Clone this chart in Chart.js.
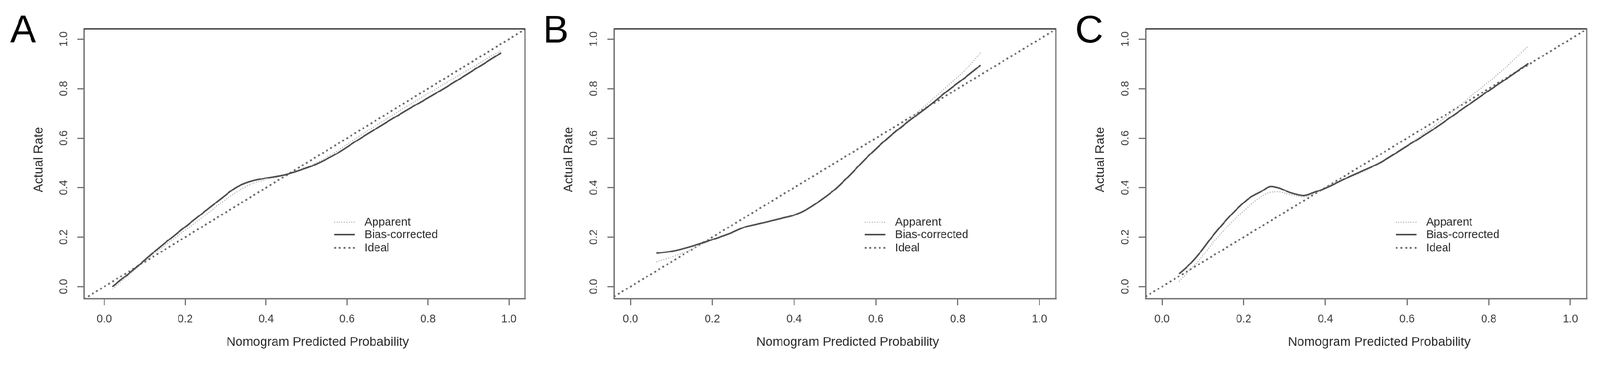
<!DOCTYPE html>
<html>
<head>
<meta charset="utf-8">
<title>Calibration curves</title>
<script src="https://cdn.jsdelivr.net/npm/chart.js@4.4.0/dist/chart.umd.min.js"></script>
<style>
  html, body { margin: 0; padding: 0; background: #fff; overflow: hidden; }
  #wrap { position: absolute; left: 0; top: 0; width: 4226px; height: 953px; transform-origin: 0 0; }
  canvas { position: absolute; top: 0; }
</style>
</head>
<body>
<div id="wrap">
  <canvas id="chartA" width="1409" height="953" style="left:0px"></canvas>
  <canvas id="chartB" width="1409" height="953" style="left:1409px"></canvas>
  <canvas id="chartC" width="1408" height="953" style="left:2818px"></canvas>
</div>
<script>
// axis ticks and labels
const tickValues = [0, 0.2, 0.4, 0.6, 0.8, 1.0];
const tickLabels = ['0.0', '0.2', '0.4', '0.6', '0.8', '1.0'];
const seriesNames = ['Apparent', 'Bias-corrected', 'Ideal'];
const panelLetters = ['A', 'B', 'C'];
const xTitle = 'Nomogram Predicted Probability';
const yTitle = 'Actual Rate';
const idealLine = [-0.1, 1.1];

// panel A
const aBiasX = [0.02, 0.077, 0.123, 0.185, 0.247, 0.294, 0.325, 0.357, 0.394, 0.446, 0.483, 0.524, 0.577, 0.629, 0.734, 0.839, 0.981];
const aBiasY = [0.0, 0.075, 0.14, 0.222, 0.302, 0.362, 0.4, 0.423, 0.437, 0.452, 0.47, 0.495, 0.54, 0.595, 0.70, 0.80, 0.945];
const aAppX = [0.02, 0.077, 0.123, 0.185, 0.247, 0.294, 0.325, 0.357, 0.394, 0.446, 0.483, 0.524, 0.577, 0.629, 0.734, 0.839, 0.981];
const aAppY = [-0.01, 0.07, 0.133, 0.21, 0.285, 0.345, 0.38, 0.41, 0.43, 0.452, 0.473, 0.5, 0.55, 0.607, 0.715, 0.818, 0.955];

// panel B
const bBiasX = [0.063, 0.102, 0.137, 0.173, 0.2, 0.243, 0.278, 0.297, 0.332, 0.367, 0.402, 0.431, 0.466, 0.498, 0.53, 0.58, 0.629, 0.679, 0.728, 0.778, 0.818, 0.856];
const bBiasY = [0.135, 0.143, 0.157, 0.175, 0.19, 0.215, 0.24, 0.248, 0.261, 0.275, 0.29, 0.312, 0.35, 0.39, 0.44, 0.525, 0.6, 0.667, 0.728, 0.795, 0.845, 0.895];
const bAppX = [0.063, 0.119, 0.173, 0.2, 0.243, 0.278, 0.297, 0.332, 0.367, 0.402, 0.431, 0.466, 0.498, 0.53, 0.58, 0.629, 0.679, 0.728, 0.778, 0.818, 0.856];
const bAppY = [0.10, 0.13, 0.17, 0.188, 0.214, 0.238, 0.247, 0.26, 0.274, 0.289, 0.311, 0.349, 0.39, 0.44, 0.525, 0.602, 0.672, 0.742, 0.815, 0.875, 0.945];

// panel C
const cBiasX = [0.042, 0.066, 0.091, 0.121, 0.152, 0.183, 0.214, 0.245, 0.266, 0.286, 0.315, 0.347, 0.371, 0.399, 0.465, 0.531, 0.597, 0.663, 0.729, 0.795, 0.855, 0.897];
const cBiasY = [0.052, 0.087, 0.133, 0.198, 0.259, 0.313, 0.358, 0.386, 0.405, 0.399, 0.379, 0.368, 0.38, 0.397, 0.449, 0.498, 0.565, 0.634, 0.71, 0.786, 0.853, 0.902];
const cAppX = [0.042, 0.066, 0.091, 0.128, 0.165, 0.201, 0.238, 0.269, 0.285, 0.315, 0.347, 0.377, 0.423, 0.5, 0.575, 0.643, 0.729, 0.762, 0.828, 0.897];
const cAppY = [0.02, 0.064, 0.107, 0.184, 0.251, 0.307, 0.358, 0.382, 0.383, 0.371, 0.363, 0.379, 0.42, 0.47, 0.545, 0.621, 0.731, 0.777, 0.866, 0.972];

// fit the 4226x953 layout into whatever viewport we actually get
const wrap = document.getElementById('wrap');
const fitScale = Math.min(window.innerWidth / 4226, window.innerHeight / 953);
wrap.style.transform = 'scale(' + fitScale + ')';

Chart.defaults.font.family = '"Liberation Sans", Arial, sans-serif';
Chart.defaults.color = '#3a3a3a';

const FONT = '"Liberation Sans", Arial, sans-serif';
const toPoints = (xs, ys) => xs.map((x, i) => ({ x: x, y: ys[i] }));

// draws the box, rotated y labels, axis titles, legend and panel letter
const decorPlugin = {
    id: 'decor',
    afterDraw(chart, args, opts) {
        const ctx = chart.ctx;
        const a = chart.chartArea;
        const yScale = chart.scales.y;
        const w = a.right - a.left;
        const h = a.bottom - a.top;
        ctx.save();

        ctx.strokeStyle = '#707070';
        ctx.lineWidth = 3;
        ctx.strokeRect(a.left, a.top, w, h);
        ctx.strokeStyle = '#505050';
        ctx.lineWidth = 4;
        ctx.beginPath();
        ctx.moveTo(a.left, a.top);
        ctx.lineTo(a.right, a.top);
        ctx.stroke();

        ctx.fillStyle = '#3a3a3a';
        ctx.font = '29px ' + FONT;
        ctx.textAlign = 'center';
        ctx.textBaseline = 'middle';
        yScale.ticks.forEach((t, i) => {
            const py = yScale.getPixelForValue(t.value);
            ctx.save();
            ctx.translate(a.left - 53, py);
            ctx.rotate(-Math.PI / 2);
            ctx.fillText(tickLabels[i], 0, 0);
            ctx.restore();
        });

        ctx.fillStyle = '#2a2a2a';
        ctx.font = '33.5px ' + FONT;
        ctx.fillText(xTitle, a.left + 617, 905);
        ctx.save();
        ctx.translate(a.left - 119, 422);
        ctx.rotate(-Math.PI / 2);
        ctx.fillText(yTitle, 0, 0);
        ctx.restore();

        // legend inside the plot
        const rows = [0.717, 0.763, 0.812];
        ctx.font = '30px ' + FONT;
        ctx.textAlign = 'left';
        chart.data.datasets.forEach((ds, i) => {
            const ly = a.top + rows[i] * h;
            ctx.save();
            ctx.strokeStyle = ds.borderColor;
            ctx.lineWidth = ds.borderWidth;
            ctx.setLineDash(ds.borderDash || []);
            ctx.beginPath();
            ctx.moveTo(a.left + 0.567 * w, ly);
            ctx.lineTo(a.left + 0.614 * w, ly);
            ctx.stroke();
            ctx.restore();
            ctx.fillStyle = '#2a2a2a';
            ctx.fillText(ds.label, a.left + 0.636 * w, ly + 1);
        });

        ctx.fillStyle = '#000';
        ctx.font = '102px ' + FONT;
        ctx.textBaseline = 'alphabetic';
        ctx.fillText(opts.letter, opts.letterX, 112);
        ctx.restore();
    }
};

function makePanel(canvasId, cfg) {
    const ctx = document.getElementById(canvasId).getContext('2d');
    return new Chart(ctx, {
        type: 'line',
        data: {
            datasets: [{
                label: seriesNames[0],
                data: toPoints(cfg.appX, cfg.appY),
                borderColor: '#a8a8a8',
                borderWidth: 2.5,
                borderDash: [2.5, 4],
                order: 1
            }, {
                label: seriesNames[1],
                data: toPoints(cfg.biasX, cfg.biasY),
                borderColor: '#4e4e4e',
                borderWidth: 4,
                order: 0
            }, {
                label: seriesNames[2],
                data: toPoints(idealLine, idealLine),
                borderColor: '#6a6a6a',
                borderWidth: 4.5,
                borderDash: [5, 7.5],
                order: 2
            }]
        },
        options: {
            responsive: false,
            animation: false,
            layout: { padding: { top: 76, right: cfg.canvasWidth - (cfg.boxRight - cfg.canvasLeft), left: 0, bottom: 0 } },
            elements: {
                point: { radius: 0 },
                line: { cubicInterpolationMode: 'monotone', borderCapStyle: 'butt' }
            },
            plugins: {
                legend: { display: false },
                tooltip: { enabled: false },
                decor: { letter: cfg.letter, letterX: cfg.letterX }
            },
            scales: {
                x: {
                    type: 'linear',
                    min: cfg.xMin,
                    max: 1.04,
                    afterBuildTicks: (scale) => { scale.ticks = tickValues.map(v => ({ value: v })); },
                    afterFit: (scale) => { scale.height = 953 - 789; scale.paddingLeft = 0; scale.paddingRight = 0; },
                    grid: { drawOnChartArea: false, drawTicks: true, tickLength: 18, color: '#707070', lineWidth: 3 },
                    border: { display: true, color: '#707070', width: 3 },
                    ticks: {
                        autoSkip: false,
                        maxRotation: 0,
                        padding: 20,
                        color: '#3a3a3a',
                        font: { size: 29 },
                        callback: (value, index) => tickLabels[index]
                    }
                },
                y: {
                    type: 'linear',
                    min: -0.048,
                    max: 1.042,
                    afterBuildTicks: (scale) => { scale.ticks = tickValues.map(v => ({ value: v })); },
                    afterFit: (scale) => { scale.width = cfg.boxLeft - cfg.canvasLeft; },
                    grid: { drawOnChartArea: false, drawTicks: true, tickLength: 18, color: '#707070', lineWidth: 3 },
                    border: { display: true, color: '#707070', width: 3 },
                    ticks: { display: false }
                }
            }
        },
        plugins: [decorPlugin]
    });
}

makePanel('chartA', {
    letter: panelLetters[0], letterX: 27, canvasLeft: 0, canvasWidth: 1409,
    boxLeft: 222, boxRight: 1387, xMin: -0.05,
    biasX: aBiasX, biasY: aBiasY, appX: aAppX, appY: aAppY
});
makePanel('chartB', {
    letter: panelLetters[1], letterX: 25, canvasLeft: 1409, canvasWidth: 1409,
    boxLeft: 1622, boxRight: 2789, xMin: -0.04,
    biasX: bBiasX, biasY: bBiasY, appX: bAppX, appY: bAppY
});
makePanel('chartC', {
    letter: panelLetters[2], letterX: 22, canvasLeft: 2818, canvasWidth: 1408,
    boxLeft: 3026, boxRight: 4191, xMin: -0.04,
    biasX: cBiasX, biasY: cBiasY, appX: cAppX, appY: cAppY
});
</script>
</body>
</html>
